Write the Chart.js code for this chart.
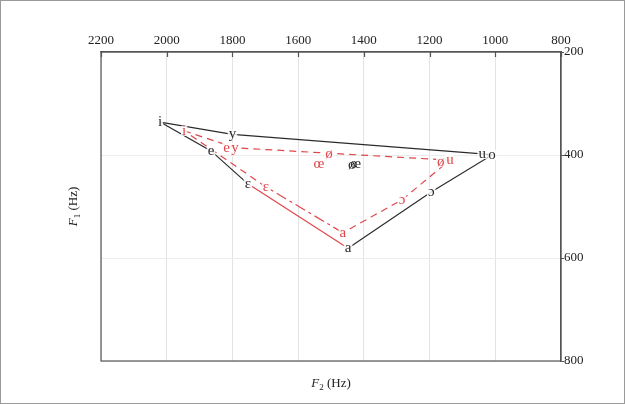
<!DOCTYPE html>
<html>
<head>
<meta charset="utf-8">
<script src="https://cdn.jsdelivr.net/npm/chart.js@4/dist/chart.umd.min.js"></script>
<style>
  html, body { margin: 0; padding: 0; background: #fff; }
  #wrap { width: 625px; height: 404px; }
</style>
</head>
<body>
<div id="wrap"><canvas id="vowelChart" width="625" height="404"></canvas></div>
<script>
// F2 / F1 vowel space (Hz)
const f2Ticks = [2200, 2000, 1800, 1600, 1400, 1200, 1000, 800];
const f1Ticks = [200, 400, 600, 800];

// black polygon (solid)
const blackVowels = ['i', 'y', 'u', 'o', 'ɔ', 'a', 'ɛ', 'e'];
const blackF2 = [2020, 1800, 1040, 1010, 1195, 1448, 1753, 1865];
const blackF1 = [336, 360, 398, 400, 472, 581, 456, 392];

// black labels not on the polygon
const blackExtraVowels = ['ø', 'œ'];
const blackExtraF2 = [1437, 1425];
const blackExtraF1 = [419, 418];

// red polygon (dashed)
const redVowels = ['i', 'y', 'u', 'ɔ', 'a', 'ɛ'];
const redF2 = [1947, 1792, 1138, 1284, 1464, 1698];
const redF1 = [353, 386, 410, 487, 551, 462];

// red labels not on the polygon
const redExtraVowels = ['e', 'ø', 'œ', 'ø'];
const redExtraF2 = [1818, 1506, 1537, 1166];
const redExtraF1 = [386, 398, 417, 413];

const BLACK = '#2b2b2b';
const RED = '#e0474c';
const SERIF = "'Liberation Serif', 'DejaVu Serif', serif";

function closedPoly(xs, ys) {
    const pts = xs.map((x, i) => ({ x: x, y: ys[i] }));
    pts.push({ x: xs[0], y: ys[0] });
    return pts;
}

// vowel symbols on top of the lines, with a small white patch under each
const vowelLabels = {
    id: 'vowelLabels',
    afterDatasetsDraw(chart) {
        const { ctx, scales: { x, y } } = chart;
        const groups = [
            { txt: blackVowels, f2: blackF2, f1: blackF1, color: BLACK },
            { txt: blackExtraVowels, f2: blackExtraF2, f1: blackExtraF1, color: BLACK },
            { txt: redVowels, f2: redF2, f1: redF1, color: RED },
            { txt: redExtraVowels, f2: redExtraF2, f1: redExtraF1, color: RED }
        ];
        ctx.save();
        ctx.font = '15px ' + SERIF;
        ctx.textAlign = 'center';
        ctx.textBaseline = 'middle';
        groups.forEach(g => {
            g.txt.forEach((t, i) => {
                const px = x.getPixelForValue(g.f2[i]);
                const py = y.getPixelForValue(g.f1[i]);
                const w = ctx.measureText(t).width;
                ctx.fillStyle = 'rgba(255,255,255,0.85)';
                ctx.fillRect(px - w / 2 - 1, py - 5, w + 2, 10);
            });
        });
        groups.forEach(g => {
            ctx.fillStyle = g.color;
            g.txt.forEach((t, i) => {
                ctx.fillText(t, x.getPixelForValue(g.f2[i]), y.getPixelForValue(g.f1[i]));
            });
        });
        ctx.restore();
    }
};

// frame, left/bottom borders, inner tick marks, axis titles
const frameAndTitles = {
    id: 'frameAndTitles',
    beforeDraw(chart) {
        const ctx = chart.ctx;
        ctx.save();
        ctx.fillStyle = '#fff';
        ctx.fillRect(0, 0, chart.width, chart.height);
        ctx.strokeStyle = '#9a9a9a';
        ctx.lineWidth = 1;
        ctx.strokeRect(0.5, 0.5, chart.width - 1, chart.height - 1);
        ctx.restore();
    },
    afterDraw(chart) {
        const { ctx, chartArea: a, scales: { x } } = chart;
        ctx.save();
        ctx.strokeStyle = '#555';
        ctx.lineWidth = 1.2;
        ctx.strokeRect(a.left, a.top, a.right - a.left, a.bottom - a.top);
        // small tick marks hanging inside from the top axis
        ctx.beginPath();
        x.ticks.forEach(t => {
            const px = Math.round(x.getPixelForValue(t.value)) + 0.5;
            ctx.moveTo(px, a.top);
            ctx.lineTo(px, a.top + 5);
        });
        ctx.stroke();

        ctx.fillStyle = '#222';
        ctx.textBaseline = 'middle';
        const drawTitle = (cx, cy, rot, sub) => {
            ctx.save();
            ctx.translate(cx, cy);
            ctx.rotate(rot);
            ctx.font = 'italic 13px ' + SERIF;
            const wF = ctx.measureText('F').width;
            ctx.font = '9px ' + SERIF;
            const wS = ctx.measureText(sub).width;
            ctx.font = '13px ' + SERIF;
            const wH = ctx.measureText(' (Hz)').width;
            let sx = -(wF + wS + wH) / 2;
            ctx.textAlign = 'left';
            ctx.font = 'italic 13px ' + SERIF;
            ctx.fillText('F', sx, 0);
            sx += wF;
            ctx.font = '9px ' + SERIF;
            ctx.fillText(sub, sx, 4);
            sx += wS;
            ctx.font = '13px ' + SERIF;
            ctx.fillText(' (Hz)', sx, 0);
            ctx.restore();
        };
        drawTitle(74, (a.top + a.bottom) / 2, -Math.PI / 2, '1');
        drawTitle((a.left + a.right) / 2, 384, 0, '2');
        ctx.restore();
    }
};

new Chart(document.getElementById('vowelChart'), {
    type: 'scatter',
    data: {
        datasets: [
            {
                label: 'black',
                data: closedPoly(blackF2, blackF1),
                showLine: true,
                borderColor: BLACK,
                borderWidth: 1.2,
                pointRadius: 0,
                segment: {
                    // a -> ɛ edge is drawn in red
                    borderColor: c => c.p0DataIndex === 5 ? RED : BLACK
                }
            },
            {
                label: 'red',
                data: closedPoly(redF2, redF1),
                showLine: true,
                borderColor: RED,
                borderWidth: 1.2,
                pointRadius: 0,
                borderDash: [7, 5],
                segment: {
                    borderDash: c => c.p0DataIndex === 4 ? [11, 4, 3, 4] : [7, 5]
                }
            }
        ]
    },
    options: {
        responsive: false,
        animation: false,
        layout: { padding: { left: 101, bottom: 43, top: 0, right: 0 } },
        plugins: { legend: { display: false }, tooltip: { enabled: false } },
        scales: {
            x: {
                type: 'linear',
                position: 'top',
                reverse: true,
                min: 800,
                max: 2200,
                afterBuildTicks: s => { s.ticks = f2Ticks.map(v => ({ value: v })); },
                afterFit: s => { s.height = 52; },
                ticks: {
                    color: '#222', font: { family: SERIF, size: 13 }, padding: 4, maxRotation: 0,
                    callback: v => String(v)
                },
                grid: { color: '#e3e3e3', lineWidth: 1, drawTicks: false },
                border: { color: '#555', width: 1.2 }
            },
            y: {
                type: 'linear',
                position: 'right',
                reverse: true,
                min: 200,
                max: 800,
                afterBuildTicks: s => { s.ticks = f1Ticks.map(v => ({ value: v })); },
                afterFit: s => { s.width = 64; },
                ticks: { color: '#222', font: { family: SERIF, size: 13 }, padding: 0, callback: v => String(v) },
                grid: { color: '#ececec', lineWidth: 1, tickLength: 3, tickColor: '#555' },
                border: { color: '#555', width: 1.2 }
            }
        }
    },
    plugins: [frameAndTitles, vowelLabels]
});
</script>
</body>
</html>
